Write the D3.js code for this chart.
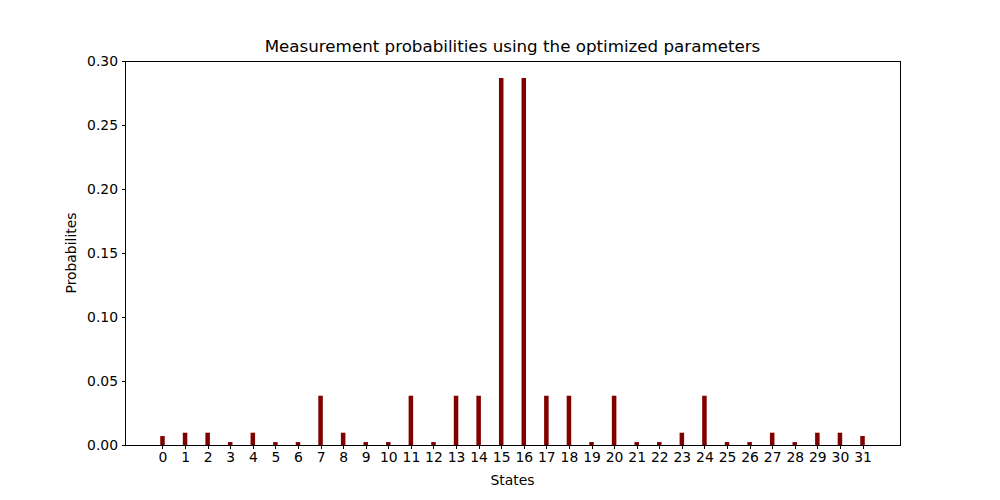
<!DOCTYPE html>
<html>
<head>
<meta charset="utf-8">
<script src="https://cdn.jsdelivr.net/npm/d3@7"></script>
<style>
  body { margin: 0; background: #fff; }
  svg text { font-family: "DejaVu Sans", sans-serif; }
</style>
</head>
<body>
<script>
// states on the x axis
var states = d3.range(32);
// probabilities
var probs = [
  0.0070, 0.0096, 0.0096, 0.0023, 0.0096, 0.0023, 0.0023, 0.0385,
  0.0096, 0.0023, 0.0023, 0.0385, 0.0023, 0.0385, 0.0385, 0.2867,
  0.2867, 0.0385, 0.0385, 0.0023, 0.0385, 0.0023, 0.0023, 0.0096,
  0.0385, 0.0023, 0.0023, 0.0096, 0.0023, 0.0096, 0.0096, 0.0070
];
var yTicks = [0, 0.05, 0.10, 0.15, 0.20, 0.25, 0.30];

var W = 1000, H = 500;
// plot area (window.top is read-only, so don't call it "top")
var plotL = 125, plotR = 900, plotT = 61, plotB = 445;
var barW = 0.2;

var svg = d3.select('body').append('svg')
  .attr('width', W)
  .attr('height', H);

var x = d3.scaleLinear().domain([-1.66, 32.66]).range([plotL, plotR]);
var y = d3.scaleLinear().domain([0, 0.30]).range([plotB, plotT]);

// bars
svg.append('g').selectAll('rect')
  .data(states)
  .enter().append('rect')
  .attr('x', function (d) { return x(d - barW / 2); })
  .attr('width', function () { return x(barW) - x(0); })
  .attr('y', function (d) { return y(probs[d]); })
  .attr('height', function (d) { return y(0) - y(probs[d]); })
  .attr('fill', '#800000');

// axes
var xAxis = d3.axisBottom(x).tickValues(states).tickFormat(d3.format('d'))
  .tickSizeOuter(0).tickSize(3.5).tickPadding(3.5);
var yAxis = d3.axisLeft(y).tickValues(yTicks).tickFormat(d3.format('.2f'))
  .tickSizeOuter(0).tickSize(3.5).tickPadding(3.5);

var gx = svg.append('g').attr('transform', 'translate(0,' + plotB + ')').call(xAxis);
var gy = svg.append('g').attr('transform', 'translate(' + plotL + ',0)').call(yAxis);
[gx, gy].forEach(function (g) {
  g.select('.domain').remove();
  g.selectAll('text').attr('font-size', '13.9px').attr('fill', '#000')
    .style('font-family', '"DejaVu Sans", sans-serif');
  g.selectAll('line').attr('stroke', '#000').attr('stroke-width', 1)
    .attr('shape-rendering', 'crispEdges');
});

// frame
svg.append('rect')
  .attr('x', plotL).attr('y', plotT)
  .attr('width', plotR - plotL).attr('height', plotB - plotT)
  .attr('fill', 'none').attr('stroke', '#000').attr('stroke-width', 1)
  .attr('shape-rendering', 'crispEdges');

// labels
svg.append('text')
  .attr('x', (plotL + plotR) / 2).attr('y', 52)
  .attr('text-anchor', 'middle').attr('font-size', '16.7px')
  .text('Measurement probabilities using the optimized parameters');
svg.append('text')
  .attr('x', (plotL + plotR) / 2).attr('y', 485)
  .attr('text-anchor', 'middle').attr('font-size', '13.9px')
  .text('States');
svg.append('text')
  .attr('transform', 'translate(76,' + (plotT + plotB) / 2 + ') rotate(-90)')
  .attr('text-anchor', 'middle').attr('font-size', '13.9px')
  .text('Probabilites');
</script>
</body>
</html>
